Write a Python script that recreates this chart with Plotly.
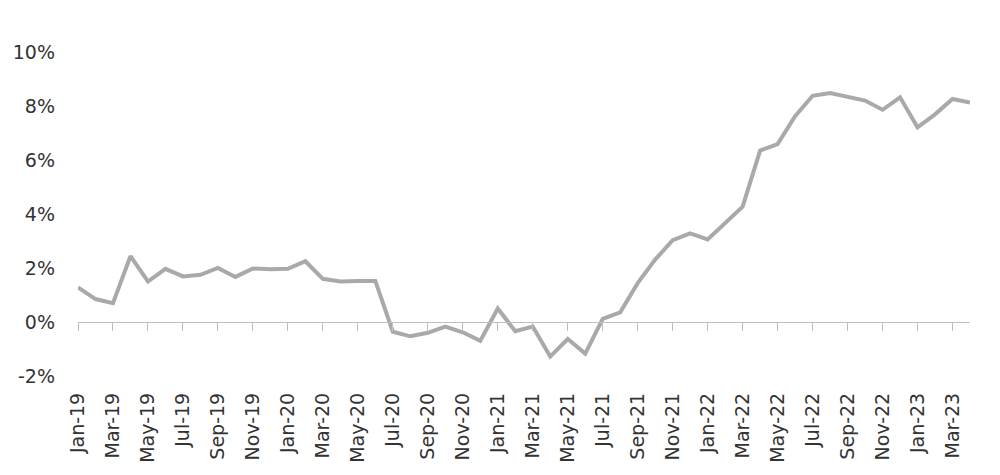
import plotly.graph_objects as go

months = ["Jan-19","Feb-19","Mar-19","Apr-19","May-19","Jun-19","Jul-19","Aug-19","Sep-19","Oct-19","Nov-19","Dec-19",
          "Jan-20","Feb-20","Mar-20","Apr-20","May-20","Jun-20","Jul-20","Aug-20","Sep-20","Oct-20","Nov-20","Dec-20",
          "Jan-21","Feb-21","Mar-21","Apr-21","May-21","Jun-21","Jul-21","Aug-21","Sep-21","Oct-21","Nov-21","Dec-21",
          "Jan-22","Feb-22","Mar-22","Apr-22","May-22","Jun-22","Jul-22","Aug-22","Sep-22","Oct-22","Nov-22","Dec-22",
          "Jan-23","Feb-23","Mar-23","Apr-23"]

values = [1.28, 0.85, 0.70, 2.44, 1.50, 1.97, 1.69, 1.75, 2.00, 1.67, 1.98, 1.95,
          1.97, 2.25, 1.60, 1.50, 1.52, 1.52, -0.36, -0.53, -0.40, -0.17, -0.38, -0.70,
          0.50, -0.34, -0.17, -1.28, -0.63, -1.17, 0.12, 0.36, 1.44, 2.31, 3.03, 3.28,
          3.06, 3.68, 4.27, 6.35, 6.59, 7.62, 8.38, 8.48, 8.33, 8.20, 7.86, 8.32,
          7.21, 7.69, 8.26, 8.13]

y_ticks = [-2, 0, 2, 4, 6, 8, 10]
y_ticktext = [f"{v}%" for v in y_ticks]

idx = list(range(len(months)))
tick_idx = idx[::2]
tick_text = [months[i] for i in tick_idx]

fig = go.Figure()
fig.add_trace(go.Scatter(x=idx, y=values, mode="lines",
                         line=dict(color="#A9A9A9", width=4),
                         cliponaxis=False, showlegend=False, hoverinfo="skip"))
# zero axis with tick marks
fig.add_trace(go.Scatter(x=idx, y=values, mode="lines", xaxis="x2",
                         line=dict(color="rgba(0,0,0,0)", width=0),
                         showlegend=False, hoverinfo="skip"))

font_family = "DejaVu Sans"
fig.update_layout(
    width=992, height=467,
    margin=dict(l=70, r=29.5, t=44, b=99),
    paper_bgcolor="white", plot_bgcolor="white",
    xaxis=dict(range=[0, 51], tickmode="array", tickvals=tick_idx, ticktext=tick_text,
               tickangle=-90, showgrid=False, zeroline=False, showline=False,
               ticks="", ticklabelstandoff=12, automargin=False,
               tickfont=dict(family=font_family, size=19, color="#333333")),
    xaxis2=dict(range=[0, 51], overlaying="x", anchor="free", position=1/6,
                tickmode="array", tickvals=tick_idx, showticklabels=False,
                showline=True, linecolor="#C0C0C0", linewidth=1,
                ticks="outside", ticklen=8, tickcolor="#C0C0C0", tickwidth=1,
                showgrid=False, zeroline=False, automargin=False),
    yaxis=dict(range=[-2, 10], tickmode="array", tickvals=y_ticks, ticktext=y_ticktext,
               showgrid=False, zeroline=False, showline=False, ticks="",
               ticklabelstandoff=22, automargin=False,
               tickfont=dict(family=font_family, size=19, color="#333333")),
)

fig.write_html("out.html")
